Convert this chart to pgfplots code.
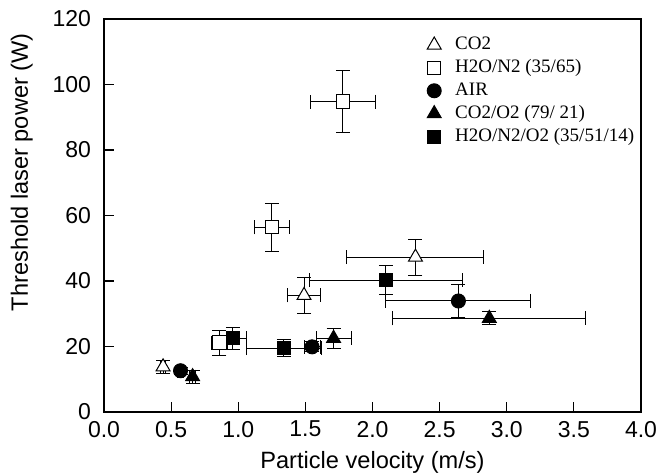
\documentclass[border=0pt]{standalone}
\usepackage{fontspec}
\setmainfont{Liberation Serif}
\setsansfont{Liberation Sans}
\usepackage{pgfplots}
\pgfplotsset{compat=1.18}

% x, y, ex, ey
\begin{document}
\begin{tikzpicture}
\begin{axis}[
  scale only axis,
  width=268.5pt, height=196.5pt,
  xmin=0, xmax=4, ymin=0, ymax=120,
  xtick={0,0.5,...,4}, ytick={0,20,...,120},
  xtick pos=bottom, ytick pos=left,
  tick align=inside,
  major tick length=5pt,
  axis line style={line width=0.6pt},
  tick style={line width=0.6pt, black},
  ticklabel style={font=\sffamily\fontsize{11.5}{13}\selectfont},
  /pgf/number format/assume math mode=true,
  xticklabel style={yshift=-1pt, /pgf/number format/.cd, fixed, fixed zerofill, precision=1},
  yticklabel style={xshift=-3pt},
  xlabel={Particle velocity (m/s)},
  ylabel={Threshold laser power (W)},
  label style={font=\sffamily\fontsize{11.8}{14}\selectfont},
  ylabel style={at={(ticklabel cs:0.61)}},
  ylabel shift=3pt,
  legend style={draw=none, fill=none, at={(0.59,0.975)}, anchor=north west,
    font=\fontsize{9.5}{11}\selectfont, row sep=-0.5pt,
    legend cell align=left, nodes={inner xsep=4pt},
    /tikz/every odd column/.append style={column sep=3pt}},
  error bars/y dir=both, error bars/x dir=both,
  error bars/y explicit, error bars/x explicit,
  error bars/error bar style={line width=0.5pt, black},
  error bars/error mark options={rotate=90, mark size=3.5pt, line width=0.5pt, black},
]
% CO2
\addplot[only marks, black, line width=0.5pt, mark=triangle*, mark size=4pt,
  mark options={draw=black, fill=white, solid}]
  table[x=x, y=y, x error=ex, y error=ey] {
x y ex ey
0.44 13.8 0.02 2.0
1.49 35.6 0.12 5.6
2.32 47.3 0.51 5.5
};
% H2O/N2
\addplot[only marks, black, line width=0.5pt, mark=square*, mark size=3.3pt,
  mark options={draw=black, fill=white, solid}]
  table[x=x, y=y, x error=ex, y error=ey] {
x y ex ey
0.86 21.2 0.06 3.8
1.25 56.4 0.13 7.4
1.78 94.8 0.24 9.5
};
% AIR
\addplot[only marks, black, line width=0.5pt, mark=*, mark size=3.5pt,
  mark options={draw=black, fill=black, solid}]
  table[x=x, y=y, x error=ex, y error=ey] {
x y ex ey
0.57 12.6 0.02 1.0
1.55 19.9 0.06 1.5
2.64 33.9 0.54 5.1
};
% CO2/O2
\addplot[only marks, black, line width=0.5pt, mark=triangle*, mark size=4pt,
  mark options={draw=black, fill=black, solid}]
  table[x=x, y=y, x error=ex, y error=ey] {
x y ex ey
0.66 10.8 0.02 2.0
1.71 22.5 0.13 3.0
2.87 28.6 0.72 2.0
};
% H2O/N2/O2
\addplot[only marks, black, line width=0.5pt, mark=square*, mark size=3.3pt,
  mark options={draw=black, fill=black, solid}]
  table[x=x, y=y, x error=ex, y error=ey] {
x y ex ey
0.96 22.5 0.10 3.4
1.34 19.5 0.28 2.7
2.10 40.3 0.57 4.5
};
\legend{CO2, H2O/N2 (35/65), AIR, CO2/O2 (79/ 21), H2O/N2/O2 (35/51/14)}
\end{axis}
\pgfresetboundingbox
\path[use as bounding box]
  ([shift={(-52pt,-30.5pt)}]current axis.south west)
  rectangle ([shift={(9pt,9.5pt)}]current axis.north east);
\end{tikzpicture}
\end{document}
